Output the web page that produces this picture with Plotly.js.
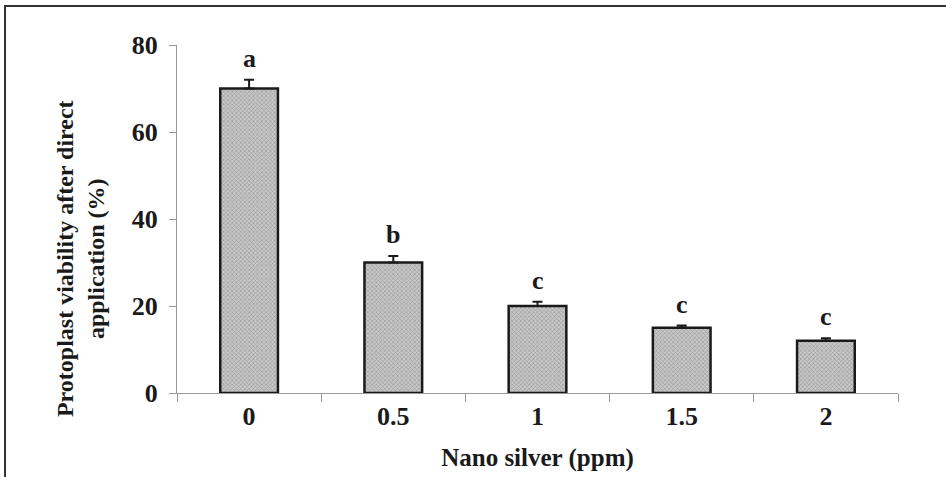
<!DOCTYPE html>
<html>
<head>
<meta charset="utf-8">
<script src="https://cdn.plot.ly/plotly-3.0.1.min.js"></script>
<style>
  html, body { margin: 0; padding: 0; background: #fff; }
  #wrap { position: relative; width: 946px; height: 477px; }
  #chart { width: 946px; height: 477px; }
  #frame { position: absolute; left: 4px; top: 5px; right: 0; bottom: 0;
           border-top: 2px solid #333; border-left: 2px solid #333; pointer-events: none; }
</style>
</head>
<body>
<div id="wrap">
  <div id="chart"></div>
  <div id="frame"></div>
</div>
<script>
// ---- data ----
const categories = ["0", "0.5", "1", "1.5", "2"];
const viability = [70, 30, 20, 15, 12];
const errorUp = [2, 1.5, 1, 0.5, 0.6];
const letters = ["a", "b", "c", "c", "c"];
const yTicks = [0, 20, 40, 60, 80];

const FONT = "Liberation Serif, Times New Roman, serif";

const trace = {
  type: "bar",
  x: categories,
  y: viability,
  marker: {
    color: "#b0b0b0",
    line: { color: "#1a1a1a", width: 2.5 },
    pattern: { shape: "x", size: 3, solidity: 0.35, fgcolor: "#929292", bgcolor: "#c8c8c8", fillmode: "replace" }
  },
  error_y: {
    type: "data", symmetric: false,
    array: errorUp,
    arrayminus: errorUp.map(() => 0),
    color: "#1a1a1a", thickness: 2, width: 5
  },
  hoverinfo: "skip"
};

const annotations = categories.map((c, i) => ({
  x: i, y: viability[i] + errorUp[i], xref: "x", yref: "y",
  text: "<b>" + letters[i] + "</b>", showarrow: false,
  yanchor: "bottom", yshift: 5,
  font: { family: FONT, size: 26, color: "#1a1a1a" }
}));

annotations.push({
  xref: "paper", yref: "paper", x: -0.1345, y: 0.385,
  xanchor: "center", yanchor: "middle", textangle: -90, showarrow: false,
  text: "<b>Protoplast viability after direct<br>application (%)</b>",
  font: { family: FONT, size: 24, color: "#1a1a1a" }
});

const layout = {
  width: 946, height: 477,
  margin: { l: 177, r: 48, t: 45, b: 84 },
  paper_bgcolor: "#fff", plot_bgcolor: "#fff",
  bargap: 0.6,
  showlegend: false,
  font: { family: FONT, color: "#1a1a1a" },
  xaxis: {
    type: "category",
    showline: true, linecolor: "#999", linewidth: 1,
    ticks: "outside", ticklen: 8, tickcolor: "#999", tickwidth: 1,
    tickson: "boundaries",
    showgrid: false, zeroline: false,
    tickfont: { family: FONT, size: 26, color: "#1a1a1a", weight: "bold" },
    title: { text: "<b>Nano silver (ppm)</b>", font: { family: FONT, size: 25, color: "#1a1a1a" }, standoff: 18 }
  },
  yaxis: {
    range: [0, 80],
    tickmode: "array", tickvals: yTicks, ticktext: yTicks.map(String),
    showline: true, linecolor: "#999", linewidth: 1,
    ticks: "outside", ticklen: 7, tickcolor: "#999", tickwidth: 1,
    showgrid: false, zeroline: false,
    tickfont: { family: FONT, size: 26, color: "#1a1a1a", weight: "bold" },
    ticklabelstandoff: 6
  },
  annotations: annotations
};

Plotly.newPlot("chart", [trace], layout, { displayModeBar: false, staticPlot: true });
</script>
</body>
</html>
